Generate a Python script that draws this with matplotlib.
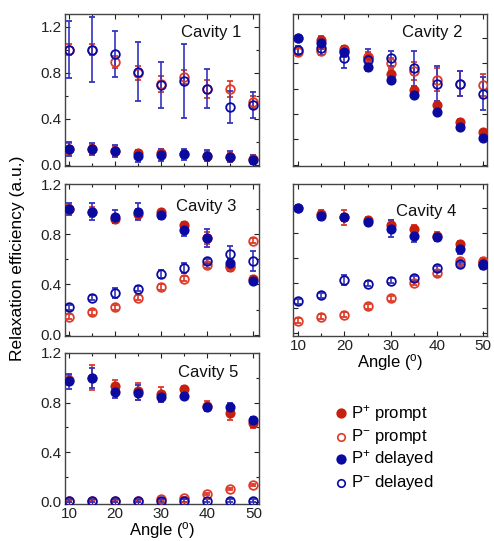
import matplotlib
matplotlib.use("Agg")
import matplotlib.pyplot as plt
from matplotlib.lines import Line2D
from matplotlib.ticker import MultipleLocator, NullFormatter

plt.rcParams['font.family'] = ['Liberation Sans', 'DejaVu Sans']

angles = [10, 15, 20, 25, 30, 35, 40, 45, 50]
cavities = ['Cavity 1', 'Cavity 2', 'Cavity 3', 'Cavity 4', 'Cavity 5']

# rows = cavity 1..5
p_plus_prompt = [
    [0.14, 0.135, 0.12, 0.10, 0.10, 0.09, 0.08, 0.07, 0.05],
    [1.0, 0.985, 0.91, 0.85, 0.72, 0.59, 0.47, 0.34, 0.255],
    [1.0, 0.98, 0.92, 0.96, 0.975, 0.87, 0.77, 0.54, 0.44],
    [1.0, 0.955, 0.925, 0.90, 0.86, 0.83, 0.775, 0.71, 0.57],
    [0.98, 1.0, 0.93, 0.89, 0.865, 0.91, 0.77, 0.715, 0.635],
]
p_plus_prompt_err = [
    [0.05, 0.04, 0.04, 0.03, 0.03, 0.03, 0.03, 0.03, 0.03],
    [0.02, 0.03, 0.03, 0.03, 0.03, 0.02, 0.02, 0.02, 0.02],
    [0.03, 0.04, 0.03, 0.04, 0.02, 0.03, 0.05, 0.03, 0.03],
    [0.02, 0.03, 0.06, 0.03, 0.04, 0.03, 0.03, 0.03, 0.03],
    [0.04, 0.10, 0.05, 0.07, 0.06, 0.02, 0.04, 0.06, 0.04],
]
p_minus_prompt = [
    [1.0, 1.0, 0.895, 0.80, 0.70, 0.765, 0.66, 0.655, 0.545],
    [0.89, 0.895, 0.90, 0.85, 0.80, 0.74, 0.67, 0.64, 0.63],
    [0.145, 0.18, 0.22, 0.295, 0.38, 0.445, 0.555, 0.55, 0.75],
    [0.10, 0.135, 0.15, 0.215, 0.28, 0.405, 0.48, 0.575, 0.575],
    [0.005, 0.005, 0.005, 0.005, 0.02, 0.03, 0.06, 0.10, 0.135],
]
p_minus_prompt_err = [
    [0.05, 0.05, 0.05, 0.06, 0.07, 0.06, 0.08, 0.07, 0.05],
    [0.03, 0.03, 0.03, 0.04, 0.04, 0.07, 0.09, 0.10, 0.09],
    [0.02, 0.02, 0.02, 0.02, 0.02, 0.02, 0.02, 0.02, 0.02],
    [0.02, 0.02, 0.02, 0.02, 0.02, 0.02, 0.02, 0.02, 0.02],
    [0.01, 0.01, 0.01, 0.01, 0.01, 0.01, 0.01, 0.01, 0.01],
]
p_plus_delayed = [
    [0.14, 0.135, 0.12, 0.075, 0.085, 0.09, 0.08, 0.07, 0.045],
    [1.0, 0.96, 0.89, 0.77, 0.67, 0.55, 0.415, 0.30, 0.21],
    [1.0, 0.98, 0.94, 0.98, 0.95, 0.835, 0.77, 0.57, 0.43],
    [1.0, 0.935, 0.925, 0.89, 0.835, 0.78, 0.765, 0.675, 0.55],
    [0.97, 1.0, 0.885, 0.88, 0.845, 0.855, 0.76, 0.76, 0.655],
]
p_plus_delayed_err = [
    [0.06, 0.05, 0.05, 0.05, 0.05, 0.05, 0.05, 0.05, 0.04],
    [0.02, 0.05, 0.04, 0.03, 0.02, 0.02, 0.02, 0.02, 0.02],
    [0.05, 0.07, 0.05, 0.07, 0.03, 0.05, 0.07, 0.03, 0.03],
    [0.02, 0.03, 0.03, 0.02, 0.07, 0.05, 0.03, 0.04, 0.03],
    [0.06, 0.08, 0.05, 0.06, 0.04, 0.02, 0.03, 0.04, 0.03],
]
p_minus_delayed = [
    [1.0, 1.0, 0.96, 0.81, 0.69, 0.73, 0.66, 0.50, 0.52],
    [0.905, 0.92, 0.84, 0.83, 0.84, 0.76, 0.64, 0.64, 0.56],
    [0.22, 0.295, 0.33, 0.365, 0.485, 0.53, 0.585, 0.64, 0.59],
    [0.255, 0.305, 0.425, 0.395, 0.42, 0.44, 0.52, 0.55, 0.545],
    [0.008, 0.008, 0.008, 0.008, 0.008, 0.008, 0.008, 0.008, 0.008],
]
p_minus_delayed_err = [
    [0.25, 0.28, 0.20, 0.26, 0.20, 0.32, 0.17, 0.14, 0.11],
    [0.03, 0.05, 0.075, 0.08, 0.06, 0.14, 0.14, 0.10, 0.13],
    [0.02, 0.02, 0.04, 0.02, 0.03, 0.04, 0.02, 0.07, 0.08],
    [0.02, 0.02, 0.04, 0.02, 0.02, 0.02, 0.02, 0.02, 0.03],
    [0.01, 0.01, 0.01, 0.01, 0.01, 0.01, 0.01, 0.01, 0.01],
]
legend_labels = ['$\\mathregular{P^{+}}$ prompt', '$\\mathregular{P^{-}}$ prompt',
                 '$\\mathregular{P^{+}}$ delayed', '$\\mathregular{P^{-}}$ delayed']

RED = '#c8200f'
RED_E = '#dd3a28'
BLUE = '#0a0aa0'
BLUE_E = '#3535c0'

W, H = 494, 541
fig = plt.figure(figsize=(W / 100, H / 100), dpi=100)


def px_axes(left, top, width, height):
    return fig.add_axes([left / W, (H - top - height) / H, width / W, height / H])


# (left, top, width, height) in pixels
boxes = [
    (65, 14, 194, 152), (293, 14, 194, 152),
    (65, 184, 194, 152), (293, 184, 194, 152),
    (65, 353, 194, 151),
]
ylims = [(-0.011, 1.31), (-0.01, 1.19), (-0.01, 1.2), (-0.02, 1.19), (-0.02, 1.2)]
text_pos = [(0.6, 0.875), (0.56, 0.875), (0.57, 0.85), (0.53, 0.82), (0.58, 0.87)]

styles = [
    (p_plus_prompt, p_plus_prompt_err, RED, RED, RED_E),
    (p_minus_prompt, p_minus_prompt_err, 'none', RED_E, RED_E),
    (p_plus_delayed, p_plus_delayed_err, BLUE, BLUE, BLUE_E),
    (p_minus_delayed, p_minus_delayed_err, 'none', BLUE, BLUE_E),
]

for i, name in enumerate(cavities):
    ax = px_axes(*boxes[i])
    right = i in (1, 3)
    for vals, errs, fc, ec, errc in styles:
        filled = fc != 'none'
        ax.errorbar(angles, vals[i], yerr=errs[i], fmt='o', ms=6.0 if filled else 6.2,
                    mfc=fc, mec=ec, mew=1.3, ecolor=errc, elinewidth=1.2,
                    capsize=2.5, capthick=1.0, zorder=3)
    ax.set_xlim((8.9, 50.8) if right else (9.1, 51.2))
    ax.set_ylim(*ylims[i])
    ax.xaxis.set_major_locator(MultipleLocator(10))
    ax.xaxis.set_minor_locator(MultipleLocator(5))
    if right:
        ax.yaxis.set_major_locator(MultipleLocator(0.2))
        ax.yaxis.set_major_formatter(NullFormatter())
    else:
        ax.yaxis.set_major_locator(MultipleLocator(0.4))
        ax.yaxis.set_minor_locator(MultipleLocator(0.2))
    ax.tick_params(which='both', direction='in', top=True, right=True,
                   labelsize=11, colors='#222222', pad=2.5)
    ax.tick_params(which='major', length=3.5, width=0.8)
    ax.tick_params(which='minor', length=2.5, width=0.8)
    if i not in (3, 4):
        ax.xaxis.set_major_formatter(NullFormatter())
    for sp in ax.spines.values():
        sp.set_color('#444444')
        sp.set_linewidth(1.0)
    ax.text(text_pos[i][0], text_pos[i][1], name, transform=ax.transAxes,
            fontsize=12, va='center', ha='left', color='#111111')
    if i in (3, 4):
        ax.set_xlabel('Angle ($\\mathregular{^{o}}$)', fontsize=12, labelpad=-1)

fig.text(18 / W, 1 - 258 / H, 'Relaxation efficiency (a.u.)', rotation=90,
         ha='center', va='center', fontsize=12.5)

# legend
leg_y = [413, 437, 459, 483]
for j, (vals, errs, fc, ec, errc) in enumerate(styles):
    fig.add_artist(Line2D([341 / W], [1 - leg_y[j] / H], transform=fig.transFigure,
                          marker='o', ms=6.2 if fc != 'none' else 5.4, mfc=fc, mec=ec,
                          mew=1.2, linestyle='none'))
    fig.text(351 / W, 1 - leg_y[j] / H, legend_labels[j], fontsize=12,
             ha='left', va='center')

fig.savefig('out.png', dpi=100)
